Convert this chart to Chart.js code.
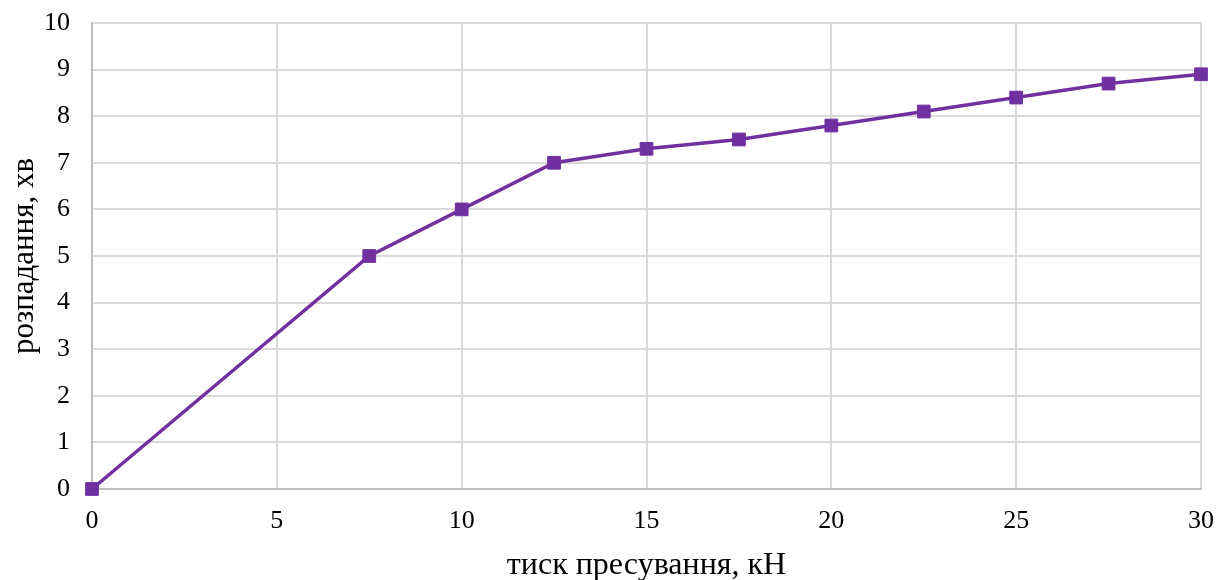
<!DOCTYPE html>
<html>
<head>
<meta charset="utf-8">
<script src="https://cdn.jsdelivr.net/npm/chart.js@4"></script>
<style>
    html, body { margin: 0; padding: 0; background: #fff; }
    #wrap { width: 1229px; height: 580px; }
</style>
</head>
<body>
<div id="wrap"><canvas id="chart" width="1229" height="580"></canvas></div>
<script>
// pressing force, kN
const PRESSURE = [0, 7.5, 10, 12.5, 15, 17.5, 20, 22.5, 25, 27.5, 30];
// disintegration time, min
const TIME = [0, 5, 6, 7, 7.3, 7.5, 7.8, 8.1, 8.4, 8.7, 8.9];

const X_TITLE = "тиск пресування, кН";
const Y_TITLE = "розпадання, хв";

const FONT = "'Liberation Serif', 'Times New Roman', serif";
const LINE_COLOR = "#7030A0";

const points = PRESSURE.map((x, i) => {
    return { x: x, y: TIME[i] };
});

new Chart(document.getElementById("chart"), {
    type: 'line',
    data: {
        datasets: [
            {
                data: points,
                borderColor: LINE_COLOR,
                backgroundColor: LINE_COLOR,
                borderWidth: 3.5,
                pointStyle: 'rect',
                pointRadius: 9,
                pointHoverRadius: 9,
                pointBorderWidth: 1,
                tension: 0,
                clip: false
            }
        ]
    },
    options: {
        responsive: false,
        animation: false,
        layout: {
            padding: { left: 0, right: 28, top: 23, bottom: 0 }
        },
        plugins: {
            legend: { display: false },
            tooltip: { enabled: false }
        },
        scales: {
            x: {
                type: 'linear',
                min: 0,
                max: 30,
                ticks: {
                    stepSize: 5,
                    color: "#000",
                    padding: 17,
                    font: { family: FONT, size: 26 }
                },
                grid: {
                    color: "#d9d9d9",
                    lineWidth: 2,
                    drawTicks: false
                },
                border: { color: "#bfbfbf", width: 2 },
                title: {
                    display: true,
                    text: X_TITLE,
                    color: "#000",
                    font: { family: FONT, size: 32 },
                    padding: { top: 0, bottom: -5 }
                },
                afterFit: (scale) => {
                    scale.height = 91;
                    scale.paddingLeft = 0;
                    scale.paddingRight = 0;
                }
            },
            y: {
                min: 0,
                max: 10,
                ticks: {
                    stepSize: 1,
                    color: "#000",
                    padding: 22,
                    font: { family: FONT, size: 26 }
                },
                grid: {
                    color: "#d9d9d9",
                    lineWidth: 2,
                    drawTicks: false
                },
                border: { color: "#bfbfbf", width: 2 },
                title: {
                    display: true,
                    text: Y_TITLE,
                    color: "#000",
                    font: { family: FONT, size: 31 },
                    padding: { top: 6, bottom: 0 }
                },
                afterFit: (scale) => {
                    scale.width = 92;
                    scale.paddingTop = 0;
                    scale.paddingBottom = 0;
                }
            }
        }
    }
});
</script>
</body>
</html>
